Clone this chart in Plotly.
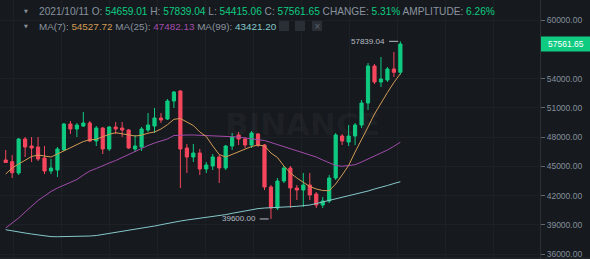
import pandas as pd
import plotly.graph_objects as go

# ---------------- data ----------------
dates = pd.date_range("2021-08-11", periods=62, freq="D")

opens = [45653, 45480, 44318, 47810, 47091, 46988, 45858, 44523, 44626, 46680,
         49350, 48837, 49145, 49453, 47604, 48939, 46783, 49042, 48939, 48734,
         46783, 46988, 48734, 49145, 49966, 49864, 51712, 52739, 46885, 45961,
         46372, 44729, 45037, 45961, 44831, 47091, 48220, 47810, 47193, 48323,
         47193, 42880, 40723, 43496, 44831, 42777, 42572, 43085, 42161, 41031,
         41442, 43804, 48118, 47502, 48118, 49247, 51507, 55307, 53664, 53869,
         54999, 54659.01]
highs = [46680, 46166, 47912, 48015, 48015, 48015, 47091, 45756, 46988, 49453,
         49658, 49453, 50583, 49658, 49145, 49042, 49145, 49556, 49556, 48837,
         48220, 49042, 50480, 50993, 50480, 51918, 52739, 52842, 47296, 47296,
         46783, 45448, 46269, 46166, 47193, 48426, 48529, 48015, 48631, 48426,
         47296, 43085, 43804, 45037, 45037, 43085, 44318, 44318, 42367, 41853,
         44112, 48426, 48323, 49247, 49453, 51815, 55615, 55512, 56231, 55204,
         56745, 57839.04]
lows = [45345, 43804, 44112, 45961, 45448, 45550, 44215, 44215, 43907, 46577,
        48323, 48015, 49042, 47502, 47091, 46269, 46577, 48323, 48015, 46783,
        46475, 46577, 48529, 48426, 49453, 49761, 50993, 42777, 44318, 45448,
        44112, 44318, 44626, 43291, 44626, 46680, 47193, 46885, 46885, 46988,
        42572, 39600, 40518, 43291, 40723, 41545, 40826, 41545, 40723, 40723,
        41237, 43599, 47193, 47091, 47193, 48939, 50788, 53458, 53150, 53664,
        54177, 54415.06]
closes = [45400, 44350, 47810, 46988, 46885, 45756, 44523, 44831, 46783, 49350,
          48837, 49247, 49453, 47604, 48939, 46783, 49042, 48837, 48734, 46885,
          47091, 48837, 49247, 49966, 49761, 51712, 52637, 46783, 45961, 46372,
          44729, 45139, 45961, 44831, 47091, 48015, 47810, 47193, 48426, 47193,
          42880, 40723, 43496, 44831, 42777, 42572, 43085, 42058, 41031, 41442,
          43804, 48220, 47604, 48118, 49247, 51507, 55307, 53664, 53972, 54999,
          54659.01, 57561.65]

ma7 = [44215, 44831, 45242, 45653, 46012, 46166, 46033, 45961, 46269, 46608,
       46937, 47265, 47553, 47727, 47779, 48046, 48292, 48457, 48344, 48220,
       48118, 48200, 48405, 48528, 48837, 49278, 49833, 49915, 49586, 49196,
       48528, 48066, 47091, 46218, 45961, 46218, 46474, 46783, 47039, 47193,
       47091, 46372, 45910, 45037, 44318, 43804, 43342, 42931, 42675, 42520,
       42500, 43188, 44112, 45088, 46474, 47707, 49042, 50377, 51507, 52585,
       53612, 54527.72]
ma25 = [38669, 39183, 39696, 40313, 40929, 41494, 41956, 42418, 42777, 43085,
        43394, 43650, 44112, 44523, 44780, 45088, 45345, 45602, 45910, 46269,
        46608, 46885, 47142, 47399, 47604, 47810, 48169, 48220, 48220, 48220,
        48190, 48159, 48138, 48118, 48087, 48066, 48015, 47912, 47830, 47728,
        47656, 47450, 47245, 47019, 46834, 46629, 46423, 46218, 45961, 45653,
        45345, 45088, 45006, 45057, 45170, 45448, 45756, 46012, 46321, 46680,
        47060, 47482.13]
ma99 = [38495, 38361, 38259, 38156, 38053, 37950, 37848, 37786, 37776, 37776,
        37786, 37807, 37827, 37848, 37899, 38002, 38105, 38207, 38310, 38433,
        38567, 38669, 38741, 38875, 39008, 39152, 39286, 39388, 39491, 39573,
        39666, 39758, 39850, 39943, 40046, 40179, 40313, 40436, 40569, 40662,
        40723, 40775, 40806, 40826, 40857, 40898, 40929, 41031, 41186, 41340,
        41514, 41648, 41853, 42007, 42161, 42315, 42469, 42675, 42829, 43034,
        43240, 43421.20]

# 57000 is hidden behind the current-price label in the reference
ytick_vals = [36000, 39000, 42000, 45000, 48000, 51000, 54000, 60000]

for arr in (opens, highs, lows, closes, ma7, ma25, ma99):
    assert len(arr) == len(dates)

# ---------------- style / layout constants ----------------
W, H = 590, 259
PLOT_W = 540
DAY_PX = 6.47
FIRST_PX = 5.7
PX60K = 20.3
PX_PER_UNIT = 0.009738

BG = "#161A1E"
GREEN = "#0ECB81"
RED = "#F6465D"
GRAY = "#8A929E"
C_MA7 = "#D29B55"
C_MA25 = "#A24BAA"
C_MA99 = "#86C7CA"
FONT = "Liberation Sans"

ymax = 60000 + PX60K / PX_PER_UNIT
ymin = 60000 - (H - PX60K) / PX_PER_UNIT
day = pd.Timedelta(days=1)
x0 = dates[0] - day * (FIRST_PX / DAY_PX)
x1 = dates[0] + day * ((PLOT_W - FIRST_PX) / DAY_PX)


def py(px):  # pixel row -> paper y
    return 1 - px / H


def pyv(v):  # price -> paper y
    return (v - ymin) / (ymax - ymin)


def pxp(px):  # pixel column -> paper x
    return px / PLOT_W


fig = go.Figure()
fig.add_trace(go.Candlestick(
    x=dates, open=opens, high=highs, low=lows, close=closes,
    increasing=dict(line=dict(color=GREEN, width=1), fillcolor=GREEN),
    decreasing=dict(line=dict(color=RED, width=1), fillcolor=RED),
    whiskerwidth=0, showlegend=False, hoverinfo="skip"))
for vals, col in ((ma99, C_MA99), (ma25, C_MA25), (ma7, C_MA7)):
    fig.add_trace(go.Scatter(x=dates, y=vals, mode="lines",
                             line=dict(color=col, width=1),
                             showlegend=False, hoverinfo="skip"))

# header texts
last = len(dates) - 1
prev_close = closes[last - 1]
chg = (closes[last] - prev_close) / prev_close * 100
amp = (highs[last] - lows[last]) / prev_close * 100


def g(v, col=GREEN):
    return f'<span style="color:{col}">{v}</span>'


row1 = (f"{dates[last].strftime('%Y/%m/%d')} O: {g(f'{opens[last]:.2f}')} "
        f"H: {g(f'{highs[last]:.2f}')} L: {g(f'{lows[last]:.2f}')} "
        f"C: {g(f'{closes[last]:.2f}')} CHANGE: {g(f'{chg:.2f}%')} "
        f"AMPLITUDE: {g(f'{amp:.2f}%')}")
row2 = (f"MA(7): {g(f'{ma7[last]:.2f}', C_MA7)} "
        f"MA(25): {g(f'{ma25[last]:.2f}', C_MA25)} "
        f"MA(99): {g(f'{ma99[last]:.2f}', C_MA99)}")

ann = []
ann.append(dict(xref="paper", yref="paper", x=pxp(36.5), y=py(11), text=row1,
                xanchor="left", yanchor="middle", showarrow=False,
                font=dict(family=FONT, size=10.15, color=GRAY)))
ann.append(dict(xref="paper", yref="paper", x=pxp(36.5), y=py(26), text=row2,
                xanchor="left", yanchor="middle", showarrow=False,
                font=dict(family=FONT, size=9.9, color=GRAY)))
for ry in (11, 26):
    ann.append(dict(xref="paper", yref="paper", x=pxp(26), y=py(ry), text="▼",
                    xanchor="center", yanchor="middle", showarrow=False,
                    font=dict(family="DejaVu Sans", size=5, color=GRAY)))
# watermark
ann.append(dict(xref="paper", yref="paper", x=pxp(302), y=py(124),
                text="<b>BINANCE</b>", xanchor="center", yanchor="middle",
                showarrow=False,
                font=dict(family="DejaVu Sans", size=31,
                          color="rgba(255,255,255,0.04)")))

shapes = []
# high / low markers
ih = max(range(len(highs)), key=lambda i: highs[i])
il = min(range(len(lows)), key=lambda i: lows[i])
for idx, val in ((ih, highs[ih]), (il, lows[il])):
    ann.append(dict(x=dates[idx] - day * 2.0, y=val, xref="x", yref="y",
                    text=f"{val:.2f}", xanchor="right", yanchor="middle",
                    showarrow=False,
                    font=dict(family=FONT, size=8, color="#B7BDC6")))
    shapes.append(dict(type="line", xref="x", yref="y",
                       x0=dates[idx] - day * 1.75, x1=dates[idx] - day * 0.35,
                       y0=val, y1=val, line=dict(color="#B7BDC6", width=1)))

# current price label on the axis
pc = closes[last]
shapes.append(dict(type="rect", xref="paper", yref="paper",
                   x0=pxp(541), x1=pxp(590),
                   y0=pyv(pc) - 7.5 / H, y1=pyv(pc) + 7.5 / H,
                   fillcolor=GREEN, line=dict(width=0), layer="above"))
ann.append(dict(xref="paper", yref="paper", x=pxp(565.5), y=pyv(pc),
                text=f"{pc:.2f}", xanchor="center", yanchor="middle",
                showarrow=False,
                font=dict(family=FONT, size=8.5, color="#FFFFFF")))

# small icon boxes
for bx in (279, 295, 312):
    shapes.append(dict(type="rect", xref="paper", yref="paper",
                       x0=pxp(bx), x1=pxp(bx + 10), y0=py(31), y1=py(21),
                       fillcolor="#2A2E35", line=dict(width=0), layer="above"))
ann.append(dict(xref="paper", yref="paper", x=pxp(317), y=py(26), text="×",
                xanchor="center", yanchor="middle", showarrow=False,
                font=dict(family="DejaVu Sans", size=8, color="#5E6673")))

# bottom border
shapes.append(dict(type="line", xref="paper", yref="paper",
                   x0=0, x1=pxp(590), y0=py(258), y1=py(258),
                   line=dict(color="#262A31", width=1)))

fig.update_layout(
    width=W, height=H,
    margin=dict(l=0, r=W - PLOT_W, t=0, b=0),
    paper_bgcolor=BG, plot_bgcolor=BG,
    showlegend=False,
    annotations=ann, shapes=shapes,
    xaxis=dict(type="date", range=[x0, x1], rangeslider=dict(visible=False),
               showticklabels=False, ticks="", showgrid=True,
               gridcolor="#1D2126", gridwidth=1,
               tick0=(dates[0] + day * 1.2).isoformat(),
               dtick=7.42 * 86400000, zeroline=False, showline=False,
               fixedrange=True),
    yaxis=dict(side="right", range=[ymin, ymax], tickvals=ytick_vals,
               tickformat=".2f", ticks="outside", ticklen=4,
               tickcolor="#5E6673", tickwidth=1,
               tickfont=dict(family=FONT, size=8.5, color="#848E9C"),
               showgrid=True, gridcolor="#1D2126", gridwidth=1,
               showline=True, linecolor="#2B2F36", linewidth=1,
               zeroline=False, automargin=False, fixedrange=True),
)

fig.write_html("out.html")
